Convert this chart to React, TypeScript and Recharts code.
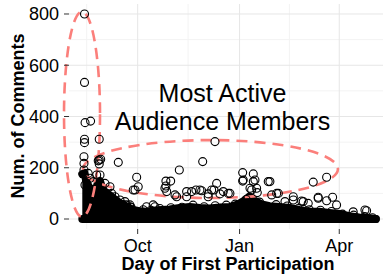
import React from "react";
import {
  ComposedChart,
  Area,
  Scatter,
  XAxis,
  YAxis,
  CartesianGrid,
  ReferenceArea,
  ReferenceDot,
} from "recharts";

// Days are counted from Oct 1 (Oct 1 = 0, Jan 1 = 92, Apr 1 = 182)
const X_TICKS = [0, 92, 182];
const X_TICK_LABELS = ["Oct", "Jan", "Apr"];
const X_MINOR = [-46, 45.5, 137];
const Y_TICKS = [0, 200, 400, 600, 800];
const Y_MINOR = [100, 300, 500, 700];

// Dense bulk of participants: upper edge of the solid mass of overlapping markers
const ENV_DAYS = [
  -50, -48, -46.5, -44, -41, -38.5, -36, -34, -32, -28.6, -25, -20, -16, -10, -4, 2, 8, 18, 29, 38,
  47, 56, 65, 74, 83, 90, 95, 101, 106, 112, 119, 128, 137, 146, 155, 164, 173, 182, 191, 200, 209, 215,
];
const ENV_TOP = [
  175, 180, 150, 125, 110, 105, 140, 148, 120, 100, 92, 74, 62, 48, 36, 30, 28, 34, 37, 43,
  47, 43, 41, 45, 47, 56, 68, 88, 70, 57, 50, 47, 43, 35, 28, 28, 24, 20, 11, 6, 3, 0,
];

// Individual participants (day of first participation, number of comments)
const PT_DAYS = [
  -48, -48, -47.5, -42.5, -48, -48, -34.7, -48.5, -48.5, -48.5, -34.7, -33.4, -35.6, -34.7, -17.5,
  -37, -34, -44.6, -40, -43, -47.6, -0.9, 0.5, -2.4, -4, -28, -23.5, -20.5, -16, -11.5, -7, 8, 14,
  -25, -29.5, -22, -10, -7, 15.6,
  69.8, 58.7, 37.6, 25.5, 25.5, 29.8, 24.6, 26.2, 33.7, 35.2, 44.2, 48.7, 52.6, 56.2, 57.8, 63.7,
  68.9, 66.8, 71.3, 74.3, 77.3, 81.8, 83.3, 94.8, 95.3, 104.4, 105.9, 94.8, 104.4, 101.4, 107.4,
  102.9, 108, 117.9, 119.4, 125.5, 127, 121, 133, 140.5, 140.5, 148, 149.5, 154, 158.5, 163, 163,
  170.6, 170.6, 176, 179.6, 194.6, 205.2, 206.7, 44.2, 63.7,
  -13, -6, 5, 12, 20, 30, 40, 50, 60, 70, 80, 88, 98, 110, 125, 135, 145, 155, 165, 175, 185, 195,
  205, 212,
];
const PT_COMMENTS = [
  800, 533, 376, 382, 311, 298, 311, 243, 217, 191, 230, 233, 227, 215, 221,
  172, 172, 178, 146, 159, 133, 163, 126, 113, 113, 100, 100, 87, 74, 68, 55, 48, 55,
  126, 139, 74, 55, 48, 48,
  302, 224, 191, 148, 129, 148, 120, 107, 94, 87, 107, 107, 113, 113, 110, 98,
  113, 113, 139, 98, 107, 100, 100, 181, 152, 176, 152, 148, 146, 120, 120,
  113, 103, 146, 146, 100, 100, 94, 68, 74, 87, 70, 68, 61, 144, 85, 81,
  163, 71, 85, 55, 28, 35, 32, 87, 87,
  56, 46, 36, 34, 41, 44, 46, 54, 48, 52, 54, 58, 76, 66, 56, 51, 41, 36, 34, 29, 19, 15,
  10, 5,
];

// Annotation ellipses (data coordinates)
const ELLIPSE_EARLY = { x1: -66.5, x2: -34, y1: 9, y2: 809 };
const ELLIPSE_LATE = { x1: -49.4, x2: 180.8, y1: 82, y2: 308 };
const NOTE_LINES = ["Most Active", "Audience Members"];
const NOTE_POS = { d: 76.6, v: [457, 347] };

const FONT = "'Liberation Sans', Arial, Helvetica, sans-serif";
const SALMON = "#fb7f7b";

const envData = ENV_DAYS.map((d, i) => ({ d, range: [0, ENV_TOP[i]] }));
const points = PT_DAYS.map((d, i) => ({ d, v: PT_COMMENTS[i] }));

const EllipseShape = (p: any) => {
  const w = Math.abs(p.width);
  const h = Math.abs(p.height);
  const x = Math.min(p.x, p.x + p.width);
  const y = Math.min(p.y, p.y + p.height);
  return (
    <ellipse
      cx={x + w / 2}
      cy={y + h / 2}
      rx={w / 2}
      ry={h / 2}
      fill="none"
      stroke={SALMON}
      strokeWidth={2.6}
      strokeDasharray="11 7"
    />
  );
};

const HollowDot = (p: any) => (
  <circle cx={p.cx} cy={p.cy} r={4} fill="none" stroke="#000" strokeWidth={1.1} />
);

const noteShape = (line: string) => (p: any) => (
  <text x={p.cx} y={p.cy} textAnchor="middle" fontSize={25} fontFamily={FONT} fill="#000">
    {line}
  </text>
);

const XTitle = () => (
  <text x={228} y={270} textAnchor="middle" fontSize={18} fontWeight="bold" fontFamily={FONT} fill="#000">
    Day of First Participation
  </text>
);
const YTitle = () => (
  <text
    x={24}
    y={116}
    transform="rotate(-90 24 116)"
    textAnchor="middle"
    fontSize={18}
    fontWeight="bold"
    fontFamily={FONT}
    fill="#000"
  >
    Num. of Comments
  </text>
);

export default function App() {
  return (
    <div style={{ position: "absolute", left: 0, top: 0, width: 383, height: 277, background: "#fff" }}>
      <ComposedChart width={383} height={277} data={envData} margin={{ top: 4, right: 0, bottom: 0, left: 0 }}>
        <CartesianGrid horizontalValues={Y_MINOR} verticalValues={X_MINOR} stroke="#f3f3f3" strokeWidth={1} />
        <CartesianGrid horizontalValues={Y_TICKS} verticalValues={X_TICKS} stroke="#e6e6e6" strokeWidth={1} />
        <XAxis
          type="number"
          dataKey="d"
          domain={[-62, 221.5]}
          ticks={X_TICKS}
          tickFormatter={(v: number) => X_TICK_LABELS[X_TICKS.indexOf(v)] ?? ""}
          allowDataOverflow
          height={48}
          tickSize={5}
          tickMargin={5}
          axisLine={false}
          tickLine={{ stroke: "#333" }}
          tick={{ fontSize: 18, fill: "#000", fontFamily: FONT }}
          label={<XTitle />}
        />
        <YAxis
          type="number"
          domain={[-39, 839]}
          ticks={Y_TICKS}
          allowDataOverflow
          width={69}
          tickSize={5}
          tickMargin={5}
          axisLine={false}
          tickLine={{ stroke: "#333" }}
          tick={{ fontSize: 18, fill: "#000", fontFamily: FONT }}
          label={<YTitle />}
        />
        <Area
          dataKey="range"
          type="linear"
          fill="#000"
          fillOpacity={1}
          stroke="#000"
          strokeWidth={8}
          strokeLinejoin="round"
          strokeLinecap="round"
          isAnimationActive={false}
          dot={false}
          activeDot={false}
        />
        <Scatter data={points} dataKey="v" shape={HollowDot} isAnimationActive={false} />
        <ReferenceArea {...ELLIPSE_EARLY} ifOverflow="visible" shape={EllipseShape} />
        <ReferenceArea {...ELLIPSE_LATE} ifOverflow="visible" shape={EllipseShape} />
        <ReferenceDot x={NOTE_POS.d} y={NOTE_POS.v[0]} ifOverflow="visible" shape={noteShape(NOTE_LINES[0])} />
        <ReferenceDot x={NOTE_POS.d} y={NOTE_POS.v[1]} ifOverflow="visible" shape={noteShape(NOTE_LINES[1])} />
      </ComposedChart>
    </div>
  );
}
